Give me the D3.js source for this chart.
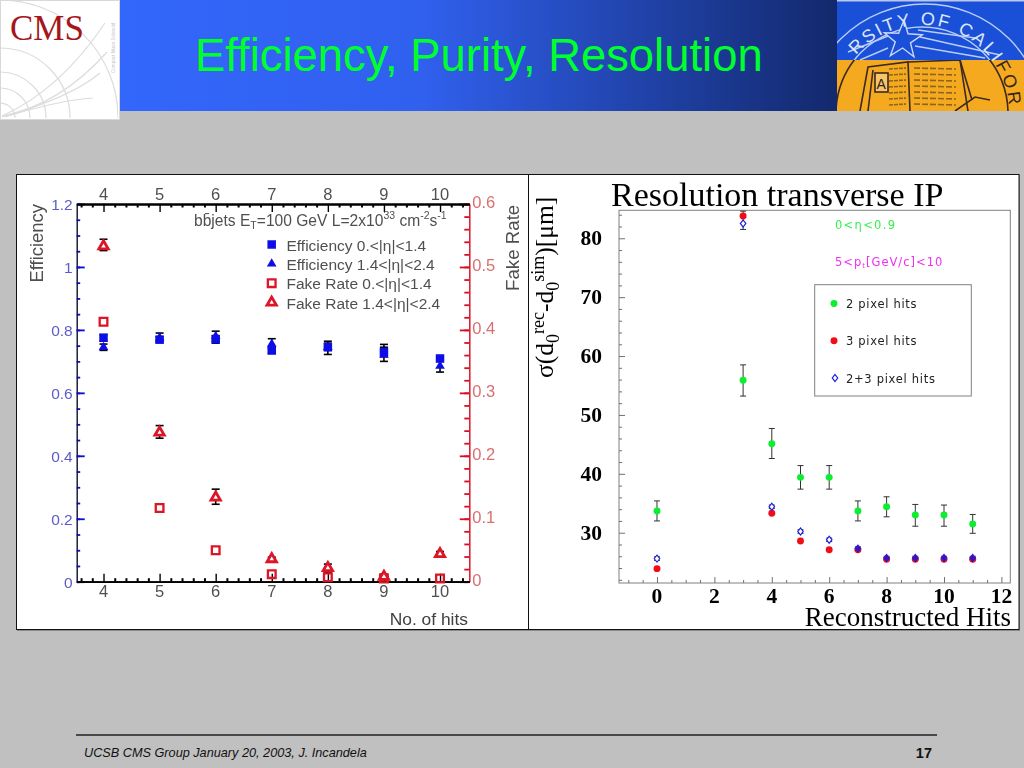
<!DOCTYPE html>
<html><head><meta charset="utf-8">
<script src="https://cdn.jsdelivr.net/npm/d3@7/dist/d3.min.js"></script>
<style>html,body{margin:0;padding:0;background:#c0c0c0;overflow:hidden}svg{display:block}</style>
</head><body><svg id="c" width="1024" height="768"></svg>
<script>
// ---- left panel data ----
const hits = [4,5,6,7,8,9,10];
const effBarrel = [0.775,0.769,0.770,0.735,0.745,0.730,0.709];
const effBarrelLo = [0.765,0.760,0.758,0.725,0.735,0.715,0.700];
const effBarrelHi = [0.785,0.778,0.782,0.745,0.758,0.745,0.718];
const effEndcap = [0.745,0.775,0.780,0.755,0.745,0.720,0.685];
const effEndcapLo = [0.735,0.765,0.765,0.740,0.722,0.700,0.666];
const effEndcapHi = [0.755,0.790,0.796,0.772,0.764,0.754,0.705];
const fakeBarrel = [0.413,0.117,0.050,0.012,0.007,0.005,0.005];
const fakeEndcap = [0.533,0.237,0.134,0.036,0.022,0.008,0.044];
const fakeEndcapLo = [0.526,0.228,0.123,0.033,0.014,0.003,0.040];
const fakeEndcapHi = [0.544,0.248,0.147,0.039,0.028,0.012,0.048];
const effTicks = [0,0.2,0.4,0.6,0.8,1,1.2];
const fakeTicks = [0,0.1,0.2,0.3,0.4,0.5,0.6];
const leftLegend = ["Efficiency 0.<|η|<1.4","Efficiency 1.4<|η|<2.4","Fake Rate 0.<|η|<1.4","Fake Rate 1.4<|η|<2.4"];
// ---- right panel data ----
const recoHits = [0,3,4,5,6,7,8,9,10,11];
const twoPix = [33.7,55.9,45.1,39.4,39.4,33.7,34.4,33.0,33.0,31.5];
const twoPixLo = [32.0,53.2,42.6,37.4,37.4,32.0,32.7,31.1,31.1,29.9];
const twoPixHi = [35.4,58.5,47.7,41.4,41.4,35.4,36.1,34.8,34.7,33.1];
const threePix = [23.9,83.8,33.3,28.6,27.1,27.1,25.5,25.5,25.5,25.5];
const bothPix = [25.6,82.5,34.4,30.2,28.8,27.3,25.7,25.7,25.7,25.7];
const bothPixLo = [25.3,81.5,34.1,29.9,28.5,27.0,25.4,25.4,25.4,25.4];
const bothPixHi = [25.9,84.6,34.7,30.5,29.1,27.6,26.0,26.0,26.0,26.0];
const resXTicks = [0,2,4,6,8,10,12];
const resYTicks = [30,40,50,60,70,80];
const rightLegend = ["2 pixel hits","3 pixel hits","2+3 pixel hits"];

const svg = d3.select("#c");
const defs = svg.append("defs");
const grad = defs.append("linearGradient").attr("id","hdr");
grad.append("stop").attr("offset","0%").attr("stop-color","#3366fb");
grad.append("stop").attr("offset","42%").attr("stop-color","#3060ee");
grad.append("stop").attr("offset","100%").attr("stop-color","#13296d");
defs.append("clipPath").attr("id","sealTop").append("rect").attr("x",837).attr("y",0).attr("width",187).attr("height",60);
defs.append("clipPath").attr("id","sealBot").append("rect").attr("x",837).attr("y",60).attr("width",187).attr("height",51);
defs.append("clipPath").attr("id","logoClip").append("rect").attr("x",1).attr("y",1).attr("width",117).attr("height",117);
const soft = defs.append("filter").attr("id","soft").attr("x","-5%").attr("y","-5%").attr("width","110%").attr("height","110%");
soft.append("feGaussianBlur").attr("stdDeviation",0.35);

svg.append("rect").attr("width",1024).attr("height",768).attr("fill","#c0c0c0");

// ---- header ----
svg.append("rect").attr("x",119).attr("y",0).attr("width",718).attr("height",111).attr("fill","url(#hdr)");
svg.append("text").attr("x",195).attr("y",71).attr("font-family","'Liberation Sans'").attr("font-size",45.4)
  .attr("fill","#00ff2e").text("Efficiency, Purity, Resolution");

// CMS logo
const logo = svg.append("g");
logo.append("rect").attr("x",0.5).attr("y",0.5).attr("width",119).attr("height",119).attr("fill","#fff").attr("stroke","#d8d8d8");
const lg = logo.append("g").attr("clip-path","url(#logoClip)").attr("fill","none").attr("stroke","#dcdcdc").attr("stroke-width",1.2);
[15,30,46,70,118].forEach(r=>lg.append("circle").attr("cx",0).attr("cy",118).attr("r",r));
["M2 116 Q60 90 105 23","M2 116 Q60 105 107 52","M2 117 Q70 98 100 73","M5 117 Q60 100 93 98"].forEach(d=>lg.append("path").attr("d",d));
logo.append("text").attr("x",10).attr("y",40).attr("font-family","'Liberation Serif'").attr("font-size",35).attr("fill","#a5151b").text("CMS");
logo.append("text").attr("transform","translate(115,73) rotate(-90)").attr("font-family","'Liberation Sans'").attr("font-size",4.6).attr("fill","#c4c4c4").text("Compact Muon Solenoid");

// UC seal
const seal = svg.append("g");
seal.append("rect").attr("x",837).attr("y",0).attr("width",187).attr("height",60).attr("fill","#1a4fd8");
seal.append("rect").attr("x",837).attr("y",0).attr("width",187).attr("height",1.5).attr("fill","#b8c8f0");
seal.append("rect").attr("x",837).attr("y",60).attr("width",187).attr("height",51).attr("fill","#f5a91e");
const sTop = seal.append("g").attr("clip-path","url(#sealTop)");
const sBot = seal.append("g").attr("clip-path","url(#sealBot)");
sTop.append("circle").attr("cx",925).attr("cy",123).attr("r",119).attr("fill","none").attr("stroke","#b9cdf5").attr("stroke-width",1.4);
sTop.append("circle").attr("cx",922).attr("cy",113).attr("r",86).attr("fill","none").attr("stroke","#b9cdf5").attr("stroke-width",1.4);
sBot.append("circle").attr("cx",925).attr("cy",123).attr("r",119).attr("fill","none").attr("stroke","#3a2a20").attr("stroke-width",1.4);
sBot.append("circle").attr("cx",922).attr("cy",113).attr("r",86).attr("fill","none").attr("stroke","#3a2a20").attr("stroke-width",1.6);
// star
const starPts = d3.range(10).map(i=>{const r=i%2?8:20,a=-Math.PI/2+0.05+i*Math.PI/5;return [903+r*Math.cos(a),40+r*Math.sin(a)];});
["M920 37 L1000 55","M915 46 L985 58","M888 36 L848 52","M888 48 L860 60","M918 30 L975 38"].forEach(d=>sTop.append("path").attr("d",d).attr("stroke","#b9cdf5").attr("stroke-width",1.4));
sTop.append("polygon").attr("points",starPts.join(" ")).attr("fill","#1a4fd8").attr("stroke","#c8d8f8").attr("stroke-width",1.4);
defs.append("path").attr("id","sealArc").attr("d","M 853.4 58.4 A 87 87 0 0 1 1007.7 127.1");
const sealTxt = seal.append("text").attr("font-family","'Liberation Sans'").attr("font-size",18).attr("letter-spacing",2.6)
  .append("textPath").attr("href","#sealArc").attr("startOffset",4);
sealTxt.append("tspan").attr("fill","#dce6fa").text("RSITY OF CALI");
sealTxt.append("tspan").attr("fill","#33261c").text("FOR");
// book
const book = seal.append("g").attr("clip-path","url(#sealBot)").attr("fill","none").attr("stroke","#3a2a20").attr("stroke-width",1.6);
book.append("path").attr("d","M860 111 L868 67 L908 62 L910 111");
book.append("path").attr("d","M908 62 L960 60 L968 111");
book.append("path").attr("d","M873 70 L868 111");
book.append("path").attr("d","M960 60 L972 100");
book.append("rect").attr("x",875).attr("y",73).attr("width",13).attr("height",19).attr("fill","#f7c468");
book.append("text").attr("x",876.5).attr("y",89).attr("font-family","'Liberation Sans'").attr("font-size",14).attr("fill","#2a2020").attr("stroke","none").text("A");
d3.range(7).forEach(i=>{
  const y=68+i*6;
  book.append("line").attr("x1",889).attr("x2",906).attr("y1",y+1).attr("y2",y).attr("stroke","#8a6420").attr("stroke-dasharray","4 1");
  book.append("line").attr("x1",914).attr("x2",956).attr("y1",y).attr("y2",y+1).attr("stroke","#8a6420").attr("stroke-dasharray","6 2");
});
book.append("path").attr("d","M955 111 L975 97 L990 100");

// ---- panel frame ----
svg.append("rect").attr("x",17).attr("y",175).attr("width",1003).attr("height",456).attr("fill","#8a8a8a");
svg.append("rect").attr("x",16.5).attr("y",174.5).attr("width",1002.5).attr("height",455).attr("fill","#fff").attr("stroke","#111").attr("stroke-width",1);
svg.append("line").attr("x1",528.5).attr("x2",528.5).attr("y1",174).attr("y2",630).attr("stroke","#111");

// ---- LEFT PANEL ----
const L = {l:76.7,r:469.3,t:204,b:581.7};
const xL = d3.scaleLinear().domain([3.522,10.522]).range([L.l,L.r]);
const yE = d3.scaleLinear().domain([0,1.2]).range([L.b,L.t]);
const yF = d3.scaleLinear().domain([0,0.6]).range([L.b,L.t]);
const lp = svg.append("g").attr("filter","url(#soft)").attr("font-family","'Liberation Sans'");

function styledAxis(axis, tr, color, width, domainColor, domainWidth){
  const g = lp.append("g").attr("transform",tr).call(axis);
  g.select(".domain").attr("stroke",domainColor).attr("stroke-width",domainWidth);
  g.selectAll(".tick line").attr("stroke",color).attr("stroke-width",width);
  g.selectAll(".tick text").remove();
  return g;
}
const xMinor = d3.range(36,105,2).map(d=>d/10).filter(d=>!hits.includes(d));
const eMinor = d3.range(0,25).map(d=>d*0.05);
const fMinor = d3.range(0,31).map(d=>d*0.02);
styledAxis(d3.axisLeft(yE).tickValues(eMinor).tickSize(-3.5).tickSizeOuter(0),`translate(${L.l},0)`,"#0b0bd0",1.8,"#101040",1);
styledAxis(d3.axisLeft(yE).tickValues(effTicks).tickSize(-8).tickSizeOuter(0),`translate(${L.l},0)`,"#0b0bd0",1.8,"#101040",1);
styledAxis(d3.axisRight(yF).tickValues(fMinor).tickSize(-5).tickSizeOuter(0),`translate(${L.r},0)`,"#d81020",1.8,"#d81020",1);
styledAxis(d3.axisRight(yF).tickValues(fakeTicks).tickSize(-9.5).tickSizeOuter(0),`translate(${L.r},0)`,"#d81020",1.8,"#d81020",1);
styledAxis(d3.axisBottom(xL).tickValues(xMinor).tickSize(-3.5).tickSizeOuter(0),`translate(0,${L.b})`,"#000",2,"#000",1.8);
styledAxis(d3.axisBottom(xL).tickValues(hits).tickSize(-8).tickSizeOuter(0),`translate(0,${L.b})`,"#000",1.4,"#000",1.8);
styledAxis(d3.axisTop(xL).tickValues(xMinor).tickSize(-3.5).tickSizeOuter(0),`translate(0,${L.t})`,"#000",2,"#000",1.8);
styledAxis(d3.axisTop(xL).tickValues(hits).tickSize(-8).tickSizeOuter(0),`translate(0,${L.t})`,"#000",1.4,"#000",1.8);

// tick labels
const lblSize = 16.5;
lp.append("g").selectAll("text").data(hits).join("text").attr("x",d=>xL(d)).attr("y",L.t-4).attr("text-anchor","middle")
  .attr("font-size",lblSize).attr("fill","#505050").text(d=>d);
lp.append("g").selectAll("text").data(hits).join("text").attr("x",d=>xL(d)).attr("y",L.b+15).attr("text-anchor","middle")
  .attr("font-size",lblSize).attr("fill","#505050").text(d=>d);
lp.append("g").selectAll("text").data(effTicks).join("text").attr("x",L.l-4).attr("y",d=>yE(d)+6).attr("text-anchor","end")
  .attr("font-size",15.5).attr("fill","#5c5cc8").text(d=>d);
lp.append("g").selectAll("text").data(fakeTicks).join("text").attr("x",L.r+3).attr("y",d=>yF(d)+4).attr("font-size",lblSize).attr("fill","#d87070").text(d=>d);
lp.append("text").attr("transform","translate(43,282.5) rotate(-90)").attr("font-size",18.4).attr("fill","#505050").text("Efficiency");
lp.append("text").attr("transform","translate(519,291) rotate(-90)").attr("font-size",18.7).attr("fill","#505050").text("Fake Rate");
lp.append("text").attr("x",468).attr("y",625).attr("text-anchor","end").attr("font-size",17.4).attr("fill","#404040").text("No. of hits");

// annotation
const ann = lp.append("text").attr("x",194).attr("y",226).attr("font-size",15.6).attr("fill","#505050");
ann.append("tspan").text("bb̄jets E");
ann.append("tspan").attr("dy",3).attr("font-size",10.5).text("T");
ann.append("tspan").attr("dy",-3).text("=100 GeV L=2x10");
ann.append("tspan").attr("dy",-7).attr("font-size",10.5).text("33");
ann.append("tspan").attr("dy",7).text(" cm");
ann.append("tspan").attr("dy",-7).attr("font-size",10.5).text("-2");
ann.append("tspan").attr("dy",7).text("s");
ann.append("tspan").attr("dy",-7).attr("font-size",10.5).text("-1");

function errs(g,xs,sx,sy,lo,hi,cap){
  const sel = g.append("g").selectAll("g").data(xs).join("g").attr("stroke","#000").attr("stroke-width",1.6);
  sel.append("line").attr("x1",d=>sx(d)).attr("x2",d=>sx(d)).attr("y1",(d,i)=>sy(lo[i])).attr("y2",(d,i)=>sy(hi[i]));
  sel.append("line").attr("x1",d=>sx(d)-cap).attr("x2",d=>sx(d)+cap).attr("y1",(d,i)=>sy(lo[i])).attr("y2",(d,i)=>sy(lo[i]));
  sel.append("line").attr("x1",d=>sx(d)-cap).attr("x2",d=>sx(d)+cap).attr("y1",(d,i)=>sy(hi[i])).attr("y2",(d,i)=>sy(hi[i]));
}
const sq = s=>d3.symbol().type(d3.symbolSquare).size(s)();
const tri = s=>d3.symbol().type(d3.symbolTriangle).size(s)();
function marks(g,xs,sx,sy,vals,path,fill,stroke,sw){
  g.append("g").selectAll("path").data(xs).join("path").attr("d",path)
   .attr("transform",(d,i)=>`translate(${sx(d)},${sy(vals[i])})`)
   .attr("fill",fill).attr("stroke",stroke).attr("stroke-width",sw);
}
errs(lp,hits,xL,yE,effBarrelLo,effBarrelHi,4);
errs(lp,hits,xL,yE,effEndcapLo,effEndcapHi,4);
errs(lp,hits,xL,yF,fakeEndcapLo,fakeEndcapHi,4);
marks(lp,hits,xL,yE,effEndcap,tri(40),"#0a0ae6","none",0);
marks(lp,hits,xL,yE,effBarrel,sq(72),"#0a0ae6","none",0);
marks(lp,hits,xL,yF,fakeBarrel,sq(59),"none","#dc1426",2.3);
marks(lp,hits,xL,yF,fakeEndcap,tri(38),"#fff","#dc1426",2.8);

// legend
const legY = d3.scalePoint().domain(leftLegend).range([244.5,302.5]);
const legG = lp.append("g");
legG.selectAll("text").data(leftLegend).join("text").attr("x",286.5).attr("y",d=>legY(d)+6).attr("font-size",15.5).attr("fill","#505050").text(d=>d);
const legStyle = [[sq(72),"#0a0ae6","none",0],[tri(40),"#0a0ae6","none",0],[sq(59),"#fff","#dc1426",2.3],[tri(38),"#fff","#dc1426",2.8]];
legG.selectAll("path").data(leftLegend).join("path").attr("d",(d,i)=>legStyle[i][0]).attr("transform",d=>`translate(271.7,${legY(d)})`)
  .attr("fill",(d,i)=>legStyle[i][1]).attr("stroke",(d,i)=>legStyle[i][2]).attr("stroke-width",(d,i)=>legStyle[i][3]);

// ---- RIGHT PANEL ----
const R = {l:619,r:1010.3,t:210.3,b:583};
const xR = d3.scaleLinear().domain([-1.324,12.31]).range([R.l,R.r]);
const yR = d3.scaleLinear().domain([21.46,84.75]).range([R.b,R.t]);
const rp = svg.append("g").attr("filter","url(#soft)").attr("font-family","'Liberation Serif'");
rp.append("rect").attr("x",R.l).attr("y",R.t).attr("width",R.r-R.l).attr("height",R.b-R.t).attr("fill","none").attr("stroke","#808080").attr("stroke-width",1);
function rAxis(axis,tr,c,w){
  const g=rp.append("g").attr("transform",tr).call(axis);
  g.select(".domain").remove();
  g.selectAll(".tick line").attr("stroke",c).attr("stroke-width",w);
  g.selectAll(".tick text").remove();
}
const rxMinor = d3.range(-2,25).map(d=>d*0.5).filter(d=>d>=-1&&d<=12&&!resXTicks.includes(d));
const ryMinor = d3.range(22,85,2).filter(d=>!resYTicks.includes(d));
rAxis(d3.axisBottom(xR).tickValues(rxMinor).tickSize(-3).tickSizeOuter(0),`translate(0,${R.b})`,"#707070",1);
rAxis(d3.axisBottom(xR).tickValues(resXTicks).tickSize(-6).tickSizeOuter(0),`translate(0,${R.b})`,"#707070",1);
rAxis(d3.axisLeft(yR).tickValues(ryMinor).tickSize(-3).tickSizeOuter(0),`translate(${R.l},0)`,"#707070",1);
rAxis(d3.axisLeft(yR).tickValues(resYTicks).tickSize(-6).tickSizeOuter(0),`translate(${R.l},0)`,"#707070",1);

rp.append("g").selectAll("text").data(resYTicks).join("text").attr("x",R.l-17).attr("y",d=>yR(d)+7).attr("text-anchor","end")
  .attr("font-size",21.5).attr("font-weight","bold").attr("fill","#000").text(d=>d);
rp.append("g").selectAll("text").data(resXTicks).join("text").attr("x",d=>xR(d)).attr("y",603).attr("text-anchor","middle")
  .attr("font-size",21.5).attr("font-weight","bold").attr("fill","#000").text(d=>d);
rp.append("text").attr("x",611).attr("y",206).attr("font-size",34).attr("fill","#000").text("Resolution transverse IP");
rp.append("text").attr("x",1011).attr("y",626).attr("text-anchor","end").attr("font-size",27).attr("fill","#000").text("Reconstructed Hits");
const yl = rp.append("text").attr("transform","translate(553,378) rotate(-90)").attr("font-size",25.5).attr("fill","#000");
yl.append("tspan").text("σ(d");
yl.append("tspan").attr("dy",6).attr("font-size",18).text("0");
yl.append("tspan").attr("dy",-15).attr("font-size",18).text("rec");
yl.append("tspan").attr("dy",9).text("-d");
yl.append("tspan").attr("dy",6).attr("font-size",18).text("0");
yl.append("tspan").attr("dy",-15).attr("font-size",18).text("sim");
yl.append("tspan").attr("dy",9).text(")[μm]");

const sansR = "'DejaVu Sans'";
const a1 = rp.append("text").attr("x",835).attr("y",229).attr("font-family",sansR).attr("font-size",11.5).attr("letter-spacing",1.3).attr("fill","#33f050");
a1.text("0<η<0.9");
const a2 = rp.append("text").attr("x",835).attr("y",266).attr("font-family",sansR).attr("font-size",11.5).attr("letter-spacing",1).attr("fill","#f030f0");
a2.append("tspan").text("5<p");
a2.append("tspan").attr("dy",2).attr("font-size",7).text("t");
a2.append("tspan").attr("dy",-2).text("[GeV/c]<10");

rp.append("rect").attr("x",814.7).attr("y",284.7).attr("width",156.6).attr("height",111.3).attr("fill","#fff").attr("stroke","#808080");
const rl = d3.scalePoint().domain(rightLegend).range([303.5,378]);
rp.append("g").selectAll("text").data(rightLegend).join("text").attr("x",846).attr("y",d=>rl(d)+4.5)
  .attr("font-family",sansR).attr("font-size",11.5).attr("letter-spacing",0.7).attr("fill","#222").text(d=>d);
const dot = d3.symbol().type(d3.symbolCircle).size(38)();
const diamond = d3.symbol().type(d3.symbolDiamond).size(20)();
rp.append("path").attr("d",dot).attr("transform",`translate(834,${rl(rightLegend[0])})`).attr("fill","#11ee33");
rp.append("path").attr("d",dot).attr("transform",`translate(834,${rl(rightLegend[1])})`).attr("fill","#f01018");
rp.append("path").attr("d",diamond).attr("transform",`translate(835,${rl(rightLegend[2])}) scale(1.15,0.85)`).attr("fill","#fff").attr("stroke","#1c1ce0").attr("stroke-width",1.1);

function rErr(xs,lo,hi,cap){
  const sel=rp.append("g").selectAll("g").data(xs).join("g").attr("stroke","#333").attr("stroke-width",1);
  sel.append("line").attr("x1",d=>xR(d)).attr("x2",d=>xR(d)).attr("y1",(d,i)=>yR(lo[i])).attr("y2",(d,i)=>yR(hi[i]));
  sel.append("line").attr("x1",d=>xR(d)-cap).attr("x2",d=>xR(d)+cap).attr("y1",(d,i)=>yR(lo[i])).attr("y2",(d,i)=>yR(lo[i]));
  sel.append("line").attr("x1",d=>xR(d)-cap).attr("x2",d=>xR(d)+cap).attr("y1",(d,i)=>yR(hi[i])).attr("y2",(d,i)=>yR(hi[i]));
}
rErr(recoHits,twoPixLo,twoPixHi,3);
rErr(recoHits,bothPixLo,bothPixHi,3);
marks(rp,recoHits,xR,yR,threePix,dot,"#f01018","none",0);
marks(rp,recoHits,xR,yR,twoPix,dot,"#11ee33","none",0);
rp.append("g").selectAll("path").data(recoHits).join("path").attr("d",diamond)
  .attr("transform",(d,i)=>`translate(${xR(d)},${yR(bothPix[i])}) scale(1.15,0.85)`)
  .attr("fill",(d,i)=>bothPix[i]<28&&threePix[i]>25?"#4a10b0":"#fff").attr("stroke","#1c1ce0").attr("stroke-width",1.1);

// ---- footer ----
svg.append("line").attr("x1",76).attr("x2",937).attr("y1",735).attr("y2",735).attr("stroke","#222").attr("stroke-width",1.3);
svg.append("text").attr("x",84).attr("y",757).attr("font-family","'Liberation Sans'").attr("font-style","italic").attr("font-size",12.7).attr("fill","#111").text("UCSB CMS Group January 20, 2003, J. Incandela");
svg.append("text").attr("x",932).attr("y",758).attr("text-anchor","end").attr("font-family","'Liberation Sans'").attr("font-weight","bold").attr("font-size",14.5).attr("fill","#111").text("17");
</script></body></html>
